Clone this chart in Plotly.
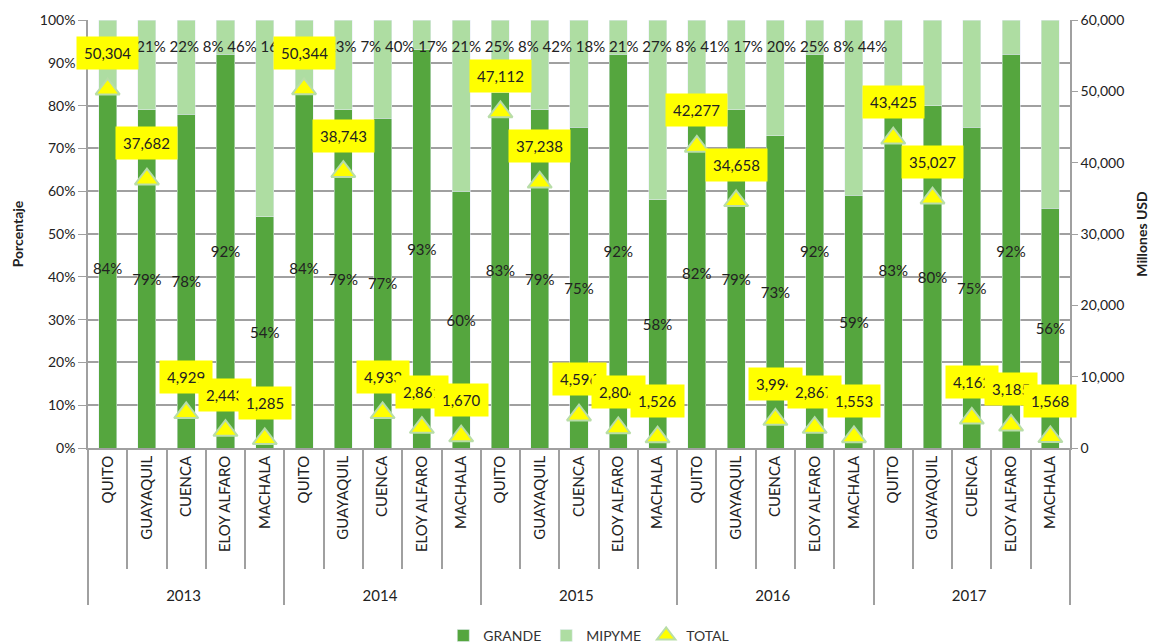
import plotly.graph_objects as go

# ---------------------------------------------------------- datos ----------------------------------------------------------#
years = ["2013", "2014", "2015", "2016", "2017"]
cities = ["QUITO", "GUAYAQUIL", "CUENCA", "ELOY ALFARO", "MACHALA"]

# participación (%) por año y ciudad
grande = [84, 79, 78, 92, 54,
          84, 79, 77, 93, 60,
          83, 79, 75, 92, 58,
          82, 79, 73, 92, 59,
          83, 80, 75, 92, 56]
mipyme = [16, 21, 22, 8, 46,
          16, 21, 23, 7, 40,
          17, 21, 25, 8, 42,
          18, 21, 27, 8, 41,
          17, 20, 25, 8, 44]

# total en millones USD
total = [50304, 37682, 4929, 2443, 1285,
         50344, 38743, 4933, 2861, 1670,
         47112, 37238, 4596, 2804, 1526,
         42277, 34658, 3994, 2867, 1553,
         43425, 35027, 4162, 3185, 1568]

# los espacios duros al inicio solo empujan el nivel de años hacia abajo
pad = "\u00a0" * 5
x = [[y for y in years for c in cities], [pad + c for y in years for c in cities]]

FONT = "Lato"
DARK = "#55A63E"
LIGHT = "#AEDDA2"
GRID = "#A0A0A0"

fig = go.Figure()
fig.add_trace(go.Bar(
    name="GRANDE", x=x, y=grande, marker_color=DARK,
    text=[f"{v}%" for v in grande], textposition="inside", insidetextanchor="middle",
    textangle=0, constraintext="none", textfont=dict(color="#222", size=15, family=FONT),
))
fig.add_trace(go.Bar(name="MIPYME", x=x, y=mipyme, marker_color=LIGHT))
fig.add_trace(go.Scatter(
    name="TOTAL", x=x, y=total, yaxis="y2", mode="markers",
    marker=dict(symbol="triangle-up", size=21, color="#FFFF00",
                line=dict(color="#B8DDA8", width=2)),
))

# fila de etiquetas MIPYME (quedaron apiladas en una sola línea en el original)
annotations = [dict(
    x=0.013, y=0.939, xref="paper", yref="paper", xanchor="left", yanchor="middle",
    text=" ".join(f"{v}%" for v in mipyme), showarrow=False,
    font=dict(size=15, color="#222", family=FONT),
)]
# etiquetas amarillas del total
for i, v in enumerate(total):
    annotations.append(dict(
        x=i, y=v, xref="x", yref="y2", yshift=36, text=f"{v:,}", showarrow=False,
        bgcolor="#FFFF00", borderpad=7, font=dict(size=15, color="#222", family=FONT),
    ))

fig.update_layout(
    width=1161, height=644,
    margin=dict(l=80, r=99, t=12, b=204),
    paper_bgcolor="white", plot_bgcolor="white",
    barmode="stack", bargap=0.54,
    font=dict(family=FONT, size=14, color="#333"),
    showlegend=True,
    legend=dict(orientation="h", x=0.51, xanchor="center", yref="container", y=0.025,
                yanchor="middle", font=dict(size=14), traceorder="normal", itemwidth=30),
    annotations=annotations,
    xaxis=dict(type="multicategory", range=[-0.5, 24.5], autorange=False, automargin=False,
               showline=True, linecolor=GRID, linewidth=1.5,
               ticks="outside", tickson="boundaries", ticklen=119, tickcolor=GRID, tickwidth=1.5,
               tickangle=-90, showdividers=True, dividercolor=GRID, dividerwidth=1.5,
               tickfont=dict(size=15, color="#222")),
    yaxis=dict(range=[0, 100], dtick=10, ticksuffix="%", showgrid=True, gridcolor=GRID,
               gridwidth=1.5, showline=True, linecolor=GRID, linewidth=1.5, automargin=False,
               ticks="outside", ticklen=8, tickcolor=GRID, tickfont=dict(size=14, color="#222"),
               title=dict(text="<b>Porcentaje</b>", font=dict(size=14, color="#222"), standoff=13),
               zeroline=False),
    yaxis2=dict(range=[0, 60000], dtick=10000, tickformat=",", overlaying="y", side="right",
                showgrid=False, showline=True, linecolor=GRID, linewidth=1.5, automargin=False,
                ticks="outside", ticklen=6, tickcolor=GRID, tickfont=dict(size=14, color="#222"),
                title=dict(text="<b>Millones USD</b>", font=dict(size=14, color="#222"), standoff=14),
                zeroline=False),
)

fig.write_html("out.html")
